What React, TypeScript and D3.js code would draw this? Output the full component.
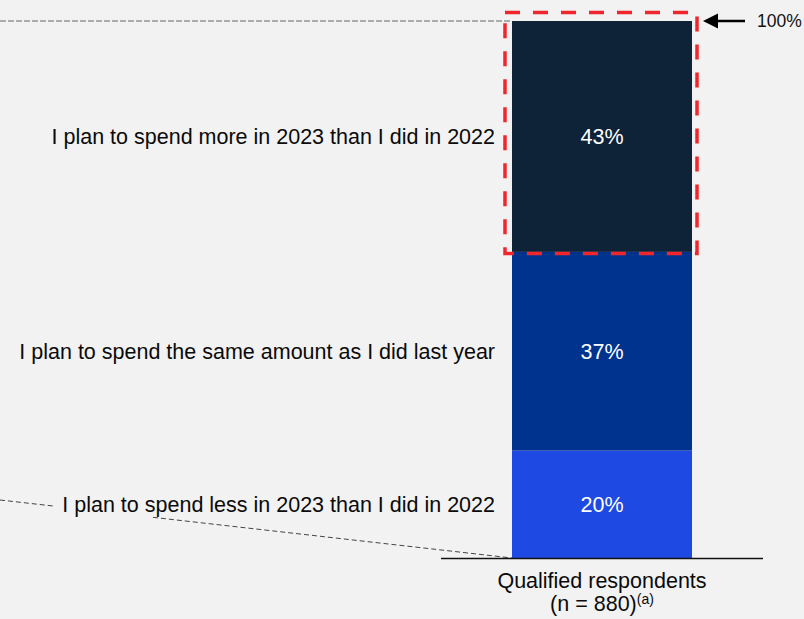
import React from "react";
import * as d3 from "d3";

const categories = [
  "I plan to spend less in 2023 than I did in 2022",
  "I plan to spend the same amount as I did last year",
  "I plan to spend more in 2023 than I did in 2022",
];
const values = [20, 37, 43];
const colors = ["#1E49E2", "#00338D", "#0E2238"];
const barLabel = ["Qualified respondents", "(n = 880)"];
const totalLabel = "100%";

export default function App() {
  const W = 804, H = 619;
  const y = d3.scaleLinear().domain([0, 100]).range([558, 21]);
  const x = d3.scaleBand().domain(["all"]).range([441, 763]).paddingInner(0).paddingOuter(0.3944);
  const bx = x("all")!;
  const bw = x.bandwidth();
  const stack = d3.stack<any>().keys(values.map((_, i) => String(i)))([
    Object.fromEntries(values.map((v, i) => [String(i), v])),
  ]);
  const font = "Liberation Sans, Arial, sans-serif";
  const top = stack[2][0];
  const boxTop = y(top[1]) - 8.5;
  const boxBot = y(top[0]) + 1.5;
  const cx = bx + bw / 2;
  const fs = 21.5;
  return (
    <svg width={W} height={H} style={{ position: "absolute", left: 0, top: 0 }} fontFamily={font}>
      <rect width={W} height={H} fill="#F2F2F2" />
      <line x1={0} x2={bx - 2} y1={y(100)} y2={y(100)} stroke="#666" strokeWidth={1} strokeDasharray="6,2" />
      <line x1={0} y1={500} x2={55} y2={500 + 55 * (58 / 512)} stroke="#444" strokeWidth={1} strokeDasharray="5,3" />
      <line x1={153} y1={500 + 153 * (58 / 512)} x2={bx} y2={558} stroke="#444" strokeWidth={1} strokeDasharray="5,3" />
      {stack.map((s, i) => (
        <g key={i}>
          <rect x={bx} y={y(s[0][1])} width={bw} height={y(s[0][0]) - y(s[0][1])} fill={colors[i]} />
          <text x={cx} y={(y(s[0][1]) + y(s[0][0])) / 2} dy="0.35em" textAnchor="middle" fill="#fff" fontSize={fs}>
            {values[i]}%
          </text>
          <text x={495} y={(y(s[0][1]) + y(s[0][0])) / 2} dy="0.35em" textAnchor="end" fill="#0a0a0a" fontSize={fs}>
            {categories[i]}
          </text>
        </g>
      ))}
      <rect x={bx - 7} y={boxTop} width={bw + 12} height={boxBot - boxTop} fill="none" stroke="#F0262E" strokeWidth={3.5} strokeDasharray="15,13" />
      <line x1={441} x2={763} y1={558.5} y2={558.5} stroke="#111" strokeWidth={1.5} />
      <line x1={745} x2={714} y1={y(100)} y2={y(100)} stroke="#000" strokeWidth={2.5} />
      <path d={`M703,${y(100)} L718,${y(100) - 7.5} L718,${y(100) + 7.5} Z`} fill="#000" />
      <text x={757} y={y(100)} dy="0.35em" fontSize={17.5} fill="#111">{totalLabel}</text>
      <text x={cx} y={580} dy="0.35em" textAnchor="middle" fontSize={fs} fill="#0a0a0a">{barLabel[0]}</text>
      <text x={cx} y={603} dy="0.35em" textAnchor="middle" fontSize={fs} fill="#0a0a0a">
        {barLabel[1]}
        <tspan fontSize={14} dy="-0.45em">(a)</tspan>
      </text>
    </svg>
  );
}
